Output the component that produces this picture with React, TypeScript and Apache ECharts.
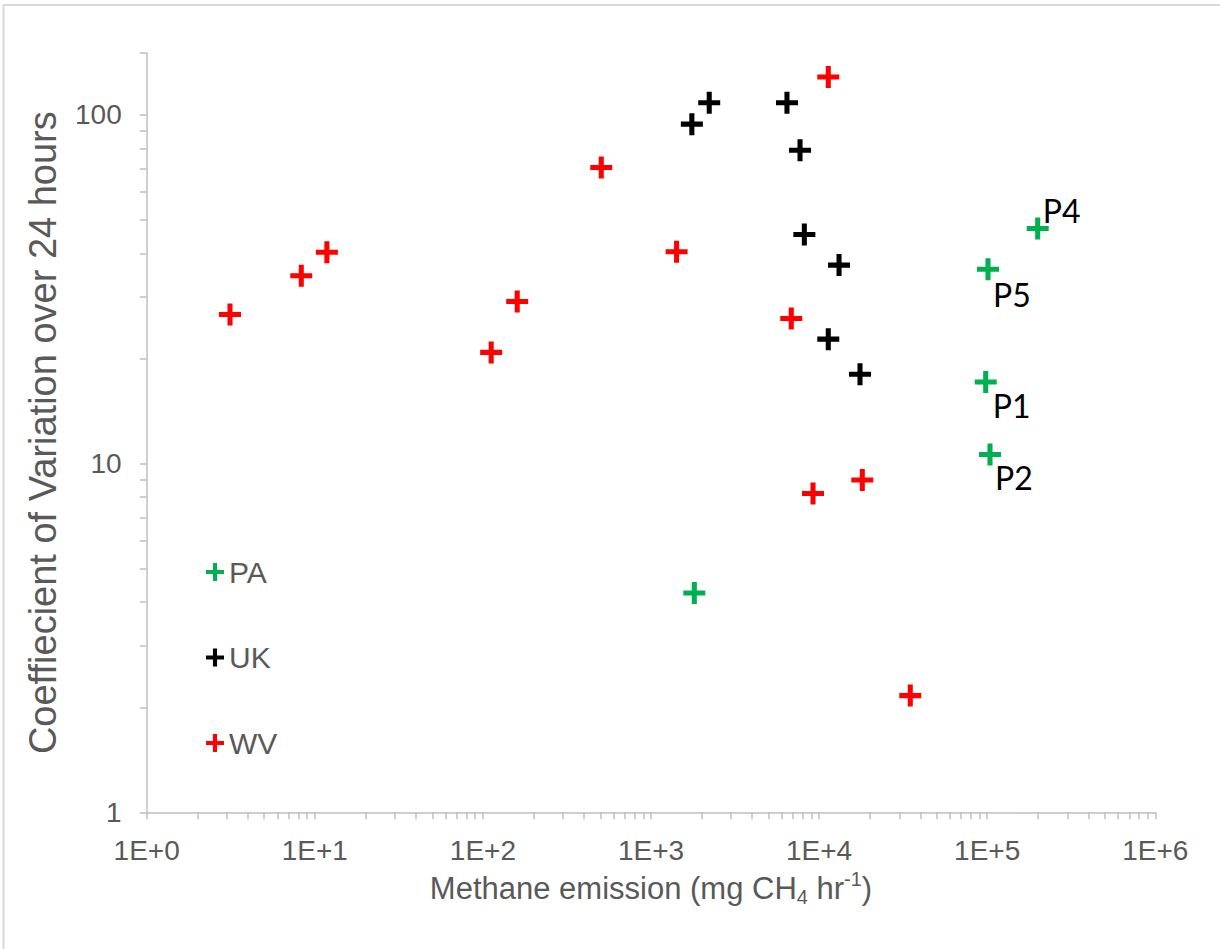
import React, { useEffect, useRef } from "react";
import * as echarts from "echarts";

// ---- data ----
const seriesNames = ["PA", "UK", "WV"];
const seriesColors = ["#00B050", "#000000", "#FF0000"];

const paX = [1810, 101100, 199700, 97950, 103900];
const paY = [4.25, 36.0, 47.1, 17.1, 10.6];
const paLabels = ["", "P5", "P4", "P1", "P2"];

const ukX = [1750, 2220, 6440, 7700, 8170, 13140, 11340, 17510];
const ukY = [93.8, 108, 108, 79.0, 45.3, 37.0, 22.7, 18.0];

const wvX = [3.13, 8.31, 11.8, 112, 160, 506, 1420, 11340, 6830, 9200, 18070, 34870];
const wvY = [26.7, 34.5, 40.3, 20.8, 29.1, 70.5, 40.4, 128, 26.0, 8.2, 8.96, 2.16];

const xTickValues = [1, 10, 100, 1000, 10000, 100000, 1000000];
const xTickLabels = ["1E+0", "1E+1", "1E+2", "1E+3", "1E+4", "1E+5", "1E+6"];
const yTickValues = [1, 10, 100];
const yTickLabels = ["1", "10", "100"];
const yMax = 150;

const xTitle = "Methane emission (mg CH{sub|4} hr{sup|-1})";
const yTitle = "Coeffiecient of Variation over 24 hours";

// label placement (style, not data)
const labelOffsets: Record<string, [number, number]> = {
  P4: [5, -18],
  P5: [5, 25],
  P1: [7, 23],
  P2: [5, 23],
};

const PLUS =
  "path://M7.7,0L12.3,0L12.3,7.7L20,7.7L20,12.3L12.3,12.3L12.3,20L7.7,20L7.7,12.3L0,12.3L0,7.7L7.7,7.7Z";

const GRAY = "#595959";
const AXIS = "#bfbfbf";
const FONT = "'Liberation Sans', Arial, sans-serif";

function minorTicks(lo: number, hi: number, extra: number[] = []) {
  const out: number[] = [];
  for (let d = lo; d < hi; d *= 10) {
    for (let k = 1; k <= 9; k++) out.push(d * k);
  }
  out.push(hi);
  return out.concat(extra);
}

function nearestIdx(arr: number[], v: number) {
  let best = 0;
  let bd = Infinity;
  arr.forEach((t, i) => {
    const d = Math.abs(Math.log10(t) - Math.log10(v));
    if (d < bd) {
      bd = d;
      best = i;
    }
  });
  return best;
}

export default function App() {
  const ref = useRef<HTMLDivElement>(null);

  useEffect(() => {
    document.body.style.margin = "0";
    if (!ref.current) return;
    const chart = echarts.init(ref.current, undefined, { renderer: "svg" });

    const pts = (xs: number[], ys: number[]) => xs.map((x, i) => [x, ys[i]]);

    const paData = pts(paX, paY).map((p, i) => {
      const name = paLabels[i];
      const off = labelOffsets[name];
      return {
        value: p,
        name,
        label: off
          ? {
              show: true,
              formatter: name,
              position: [11 + off[0], 11 + off[1]],
              align: "left",
              verticalAlign: "middle",
              fontFamily: "Lato, 'Noto Sans', sans-serif",
              fontSize: 32,
              color: "#000",
            }
          : { show: false },
      };
    });

    const option: any = {
      animation: false,
      backgroundColor: "#fff",
      graphic: [
        {
          type: "rect",
          shape: { x: 3.5, y: 5, width: 1400, height: 1100 },
          style: { fill: "none", stroke: "#d9d9d9", lineWidth: 2 },
          silent: true,
        },
      ],
      grid: { left: 146.7, right: 1220 - 1155.3, top: 53, bottom: 949 - 812.3 },
      legend: {
        orient: "vertical",
        left: 206,
        top: 557,
        padding: 0,
        itemGap: 55.5,
        itemWidth: 18,
        itemHeight: 18,
        icon: PLUS,
        data: seriesNames,
        textStyle: { fontSize: 30, color: GRAY, fontFamily: FONT, lineHeight: 30, padding: [0, 0, 0, 0] },
      },
      xAxis: {
        type: "log",
        logBase: 10,
        min: xTickValues[0],
        max: xTickValues[xTickValues.length - 1],
        splitLine: { show: false },
        axisLine: { show: true, lineStyle: { color: AXIS, width: 1.5 } },
        axisTick: {
          show: true,
          inside: false,
          length: 7,
          lineStyle: { color: AXIS, width: 1.5 },
          customValues: minorTicks(1, 1e6),
        },
        minorTick: { show: false },
        axisLabel: {
          customValues: xTickValues,
          formatter: (v: number) => xTickLabels[nearestIdx(xTickValues, v)],
          fontSize: 28,
          color: GRAY,
          fontFamily: FONT,
          margin: 24,
          lineHeight: 28,
        },
        name: xTitle,
        nameLocation: "middle",
        nameGap: 57,
        nameTextStyle: {
          fontSize: 31,
          color: GRAY,
          fontFamily: FONT,
          lineHeight: 38,
          rich: {
            sub: { fontSize: 20, color: GRAY, fontFamily: FONT, lineHeight: 20, verticalAlign: "bottom" },
            sup: { fontSize: 20, color: GRAY, fontFamily: FONT, lineHeight: 20, verticalAlign: "top" },
          },
        },
      },
      yAxis: {
        type: "log",
        logBase: 10,
        min: yTickValues[0],
        max: yMax,
        splitLine: { show: false },
        axisLine: { show: true, lineStyle: { color: AXIS, width: 1.5 } },
        axisTick: {
          show: true,
          inside: false,
          length: 7,
          lineStyle: { color: AXIS, width: 1.5 },
          customValues: minorTicks(1, 100, [yMax]),
        },
        minorTick: { show: false },
        axisLabel: {
          customValues: yTickValues,
          formatter: (v: number) => yTickLabels[nearestIdx(yTickValues, v)],
          fontSize: 28,
          color: GRAY,
          fontFamily: FONT,
          margin: 25,
        },
        name: yTitle,
        nameLocation: "middle",
        nameGap: 82,
        nameTextStyle: { fontSize: 38, color: GRAY, fontFamily: FONT, lineHeight: 42 },
      },
      series: [
        {
          name: seriesNames[0],
          type: "scatter",
          symbol: PLUS,
          symbolSize: 22,
          itemStyle: { color: seriesColors[0], opacity: 1 },
          data: paData,
          z: 3,
        },
        {
          name: seriesNames[1],
          type: "scatter",
          symbol: PLUS,
          symbolSize: 22,
          itemStyle: { color: seriesColors[1], opacity: 1 },
          data: pts(ukX, ukY),
          z: 2,
        },
        {
          name: seriesNames[2],
          type: "scatter",
          symbol: PLUS,
          symbolSize: 22,
          itemStyle: { color: seriesColors[2], opacity: 1 },
          data: pts(wvX, wvY),
          z: 2,
        },
      ],
    };

    chart.setOption(option);
    return () => chart.dispose();
  }, []);

  return <div ref={ref} style={{ width: 1220, height: 949 }} />;
}
